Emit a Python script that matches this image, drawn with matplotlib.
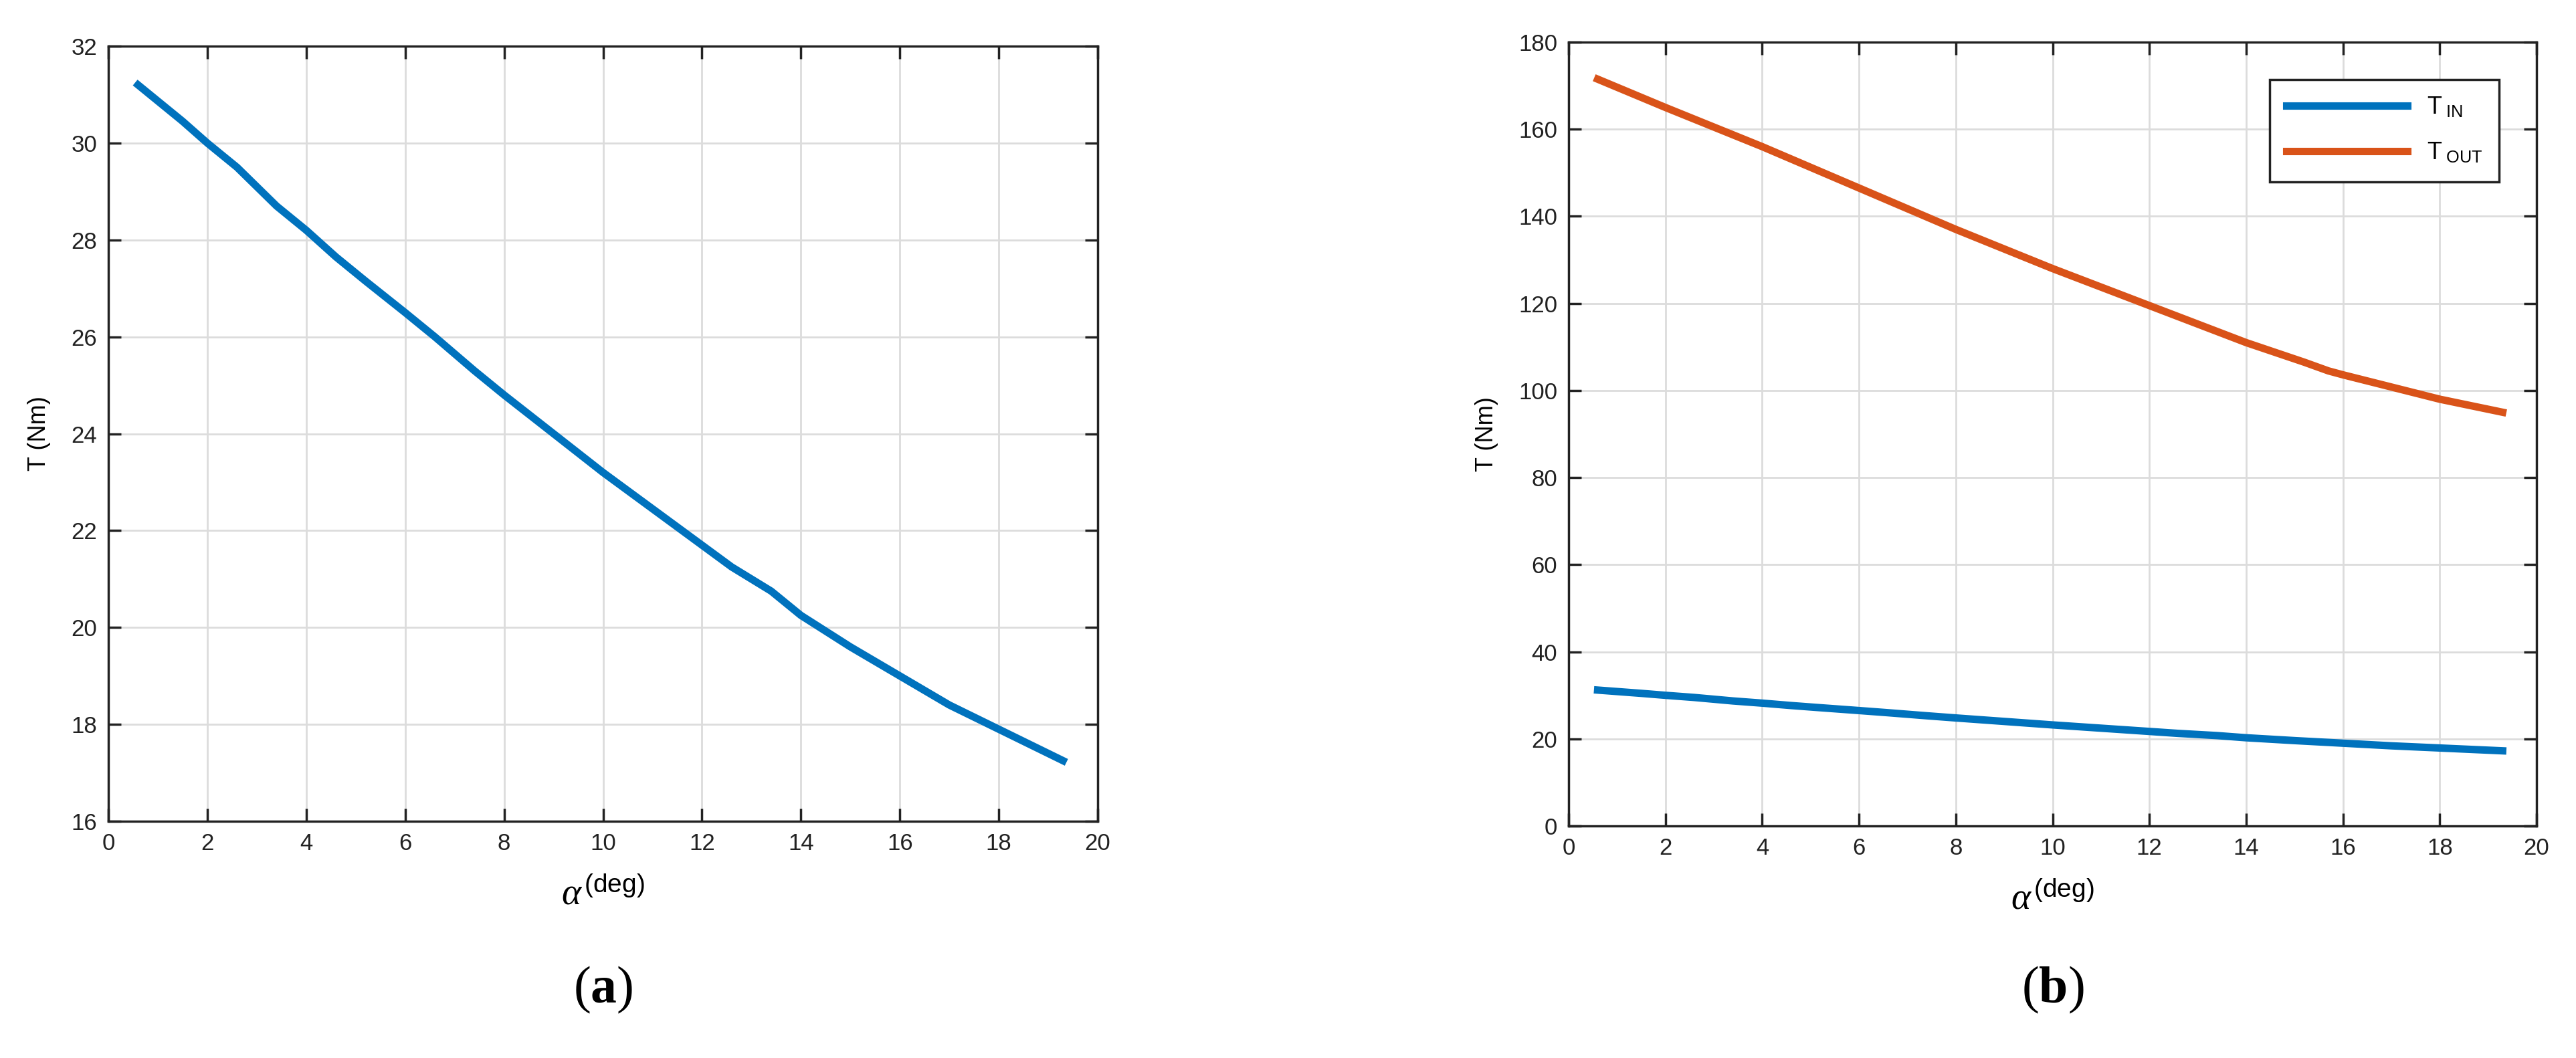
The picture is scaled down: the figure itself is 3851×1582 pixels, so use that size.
import matplotlib
matplotlib.use("Agg")
import matplotlib.pyplot as plt

plt.rcParams["font.family"] = ["Liberation Sans", "DejaVu Sans"]
plt.rcParams["mathtext.fontset"] = "custom"
plt.rcParams["mathtext.rm"] = "Liberation Sans"
plt.rcParams["mathtext.it"] = "Liberation Serif:italic"
plt.rcParams["mathtext.bf"] = "Liberation Serif:bold"

alpha = [0.6, 1.5, 2.0, 2.6, 3.4, 4.0, 4.6, 5.2, 6.0, 6.6, 7.4, 8.0, 9.0, 10.0, 11.0, 12.0, 12.6, 13.4, 14.0, 15.0, 16.0, 17.0, 18.0, 19.3]
t_in = [31.2, 30.45, 30.0, 29.5, 28.7, 28.2, 27.65, 27.15, 26.5, 26.0, 25.3, 24.8, 24.0, 23.2, 22.45, 21.7, 21.25, 20.75, 20.25, 19.6, 19.0, 18.4, 17.9, 17.25]
alpha_out = [0.6, 2.0, 4.0, 6.0, 8.0, 10.0, 12.0, 14.0, 15.2, 15.7, 16.0, 18.0, 19.3]
t_out = [171.5, 165.0, 156.0, 146.5, 137.0, 128.0, 119.5, 111.0, 106.5, 104.5, 103.6, 98.0, 95.0]

BLUE = "#0072BD"
ORANGE = "#D95319"

fig = plt.figure(figsize=(38.51, 15.82), dpi=100)
W, H = 3851, 1582
ax1 = fig.add_axes([162/W, 1-1228/H, (1641-162)/W, (1228-69)/H])
ax2 = fig.add_axes([2345/W, 1-1235/H, (3792-2345)/W, (1235-63)/H])

def style(ax):
    ax.grid(True, color="#dcdcdc", linewidth=2)
    ax.set_axisbelow(True)
    ax.tick_params(direction="in", top=True, right=True, length=14, width=2.5, labelsize=25, colors="#222222", pad=12)
    for s in ax.spines.values():
        s.set_linewidth(2.5); s.set_color("#222222")
    ax.set_xlim(0, 20)
    ax.set_xticks(range(0, 21, 2))
    ax.set_xlabel(r"$\mathit{\alpha}$" + r"$^{\,\mathrm{(deg)}}$", fontsize=40, labelpad=25)
    ax.set_ylabel("T (Nm)", fontsize=26, labelpad=22)

ax1.plot(alpha, t_in, color=BLUE, linewidth=8)
style(ax1)
ax1.set_ylim(16, 32)
ax1.set_yticks(range(16, 33, 2))

ax2.plot(alpha, t_in, color=BLUE, linewidth=8, label=r"T$_{\mathrm{\ IN}}$")
ax2.plot(alpha_out, t_out, color=ORANGE, linewidth=8, label=r"T$_{\mathrm{\ OUT}}$")
style(ax2)
ax2.set_ylim(0, 180)
ax2.set_yticks(range(0, 181, 20))
leg = ax2.legend(loc="upper right", bbox_to_anchor=(0.974, 0.968), fontsize=26, fancybox=False,
                 edgecolor="#222222", framealpha=1, handlelength=5, borderpad=0.7, labelspacing=0.9)
leg.get_frame().set_linewidth(2.5)

fig.text((162+1641)/2/W, 1-1480/H, r"($\mathbf{a}$)", ha="center", va="center", fontsize=56, family="Liberation Serif")
fig.text((2345+3792)/2/W, 1-1480/H, r"($\mathbf{b}$)", ha="center", va="center", fontsize=56, family="Liberation Serif")
fig.savefig("out.png", dpi=100)
